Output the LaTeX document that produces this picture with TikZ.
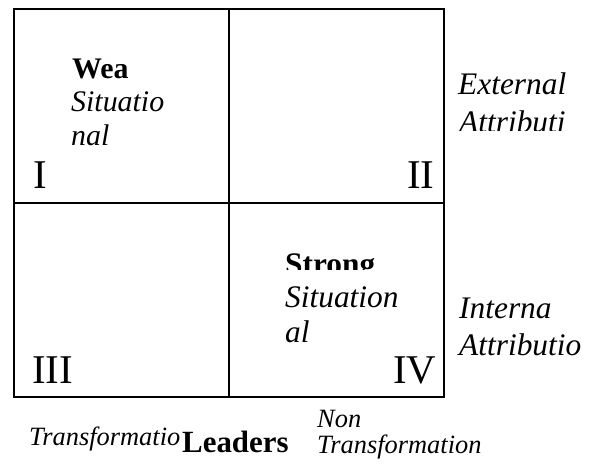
\documentclass[tikz,border=0pt]{standalone}
\usepackage{fontspec}
\setmainfont{Liberation Serif}
\usepackage{tikz}
\usetikzlibrary{positioning}

\tikzset{
  kursywa/.style={anchor=base west,inner sep=0pt,font=\fontsize{30}{34}\selectfont\itshape},
  duza/.style={anchor=base west,inner sep=0pt,font=\fontsize{31.5}{36}\selectfont\itshape},
  mala/.style={anchor=base west,inner sep=0pt,font=\fontsize{26.5}{30}\selectfont\itshape},
  gruba/.style={anchor=base west,inner sep=0pt,font=\fontsize{30}{34}\selectfont\bfseries},
  numer/.style={anchor=base west,inner sep=0pt,font=\fontsize{41}{44}\selectfont}
}

\begin{document}
\begin{tikzpicture}[x=1bp,y=-1bp]
\useasboundingbox (0,0) rectangle (591,465);

%siatka
\draw[line width=1.3bp] (14,9) rectangle (444,397);
\draw[line width=1.3bp] (229,9) -- (229,397);
\draw[line width=1.3bp] (14,203) -- (444,203);

%numery cwiartek
\foreach \n/\x/\y in {I/33/189,II/407/189,III/32/383,IV/393/383}
    \node[numer] (c\n) at (\x,\y) {\n};

%cwiartka I
\node[gruba] (wea) at (72,79) {Wea};
\node[kursywa] (sit1) at (71,112) {Situatio};
\node[kursywa] (nal1) at (71,146) {nal};

%cwiartka IV
\begin{scope}
\clip (270,240) rectangle (440,270);
\node[gruba,font=\fontsize{31.5}{36}\selectfont\bfseries] (strong) at (285,275) {Strong};
\end{scope}
\node[duza] (sit4) at (285,307) {Situation};
\node[duza] (nal4) at (285,342) {al};

%prawa strona
\node[duza] (ext) at (458,95) {External};
\begin{scope}
\clip (450,100) rectangle (591,131);
\node[duza] (attr1) at (459,133) {Attributi};
\end{scope}
\node[duza] (int) at (459,318) {Interna};
\node[duza] (attr2) at (459,355) {Attributio};

%dol
\node[mala] (tr1) at (29,445) {Transformatio};
\node[gruba,font=\fontsize{31}{35}\selectfont\bfseries] (lead) at (182,452) {Leaders};
\node[mala] (non) at (317,427) {Non};
\node[mala] (tr2) at (317,453) {Transformation};

%end
\end{tikzpicture}
\end{document}
